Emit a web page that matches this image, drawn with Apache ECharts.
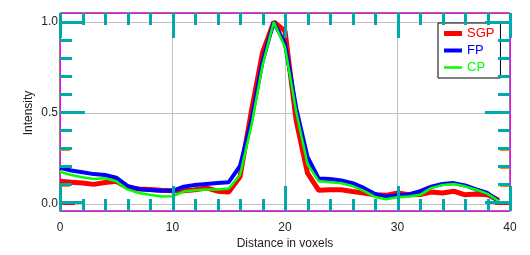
<!DOCTYPE html>
<html>
<head>
<meta charset="utf-8">
<script src="https://cdn.jsdelivr.net/npm/echarts@6/dist/echarts.min.js"></script>
<style>html,body{margin:0;padding:0;background:#fff;}#c{width:530px;height:255px;}</style>
</head>
<body>
<div id="c"></div>
<script>
const distances = [0,1,2,3,4,5,6,7,8,9,10,11,12,13,14,15,16,17,18,19,20,21,22,23,24,25,26,27,28,29,30,31,32,33,34,35,36,37,38,39];
const sgp = [0.115,0.11,0.105,0.098,0.108,0.115,0.08,0.072,0.07,0.065,0.063,0.062,0.068,0.078,0.06,0.055,0.14,0.5,0.83,1.0,0.95,0.45,0.16,0.065,0.068,0.068,0.058,0.05,0.04,0.037,0.05,0.04,0.042,0.055,0.05,0.06,0.04,0.045,0.04,0.01];
const fp = [0.19,0.175,0.165,0.155,0.15,0.135,0.09,0.072,0.066,0.062,0.062,0.085,0.095,0.1,0.105,0.11,0.2,0.45,0.78,1.0,0.88,0.52,0.25,0.13,0.128,0.12,0.105,0.078,0.045,0.03,0.037,0.042,0.06,0.085,0.1,0.105,0.092,0.07,0.05,0.005];
const cp = [0.168,0.15,0.138,0.128,0.132,0.115,0.07,0.05,0.04,0.03,0.032,0.058,0.065,0.07,0.07,0.075,0.15,0.42,0.76,1.0,0.86,0.5,0.21,0.115,0.11,0.104,0.088,0.062,0.028,0.015,0.026,0.03,0.04,0.077,0.095,0.1,0.087,0.068,0.045,0.005];
const seriesNames = ['SGP','FP','CP'];
const xTicks = [0,10,20,30,40];
const yTicks = [0.0,0.5,1.0];
const xMinorTicks = [0,2,4,6,8,10,12,14,16,18,20,22,24,26,28,30,32,34,36,38,40];
const yMinorTicks = [0.0,0.1,0.2,0.3,0.4,0.5,0.6,0.7,0.8,0.9,1.0];
const yRange = [-0.05, 1.05];

const FONT = 'Liberation Sans';
const TXT = '#222';
const pair = arr => distances.map((d,i)=>[d,arr[i]]);
const chart = echarts.init(document.getElementById('c'), null, {renderer:'canvas'});
const ticks = () => ({
  axisLine:{show:true, onZero:false, lineStyle:{color:'#f0f', width:1}},
  axisTick:{show:true, inside:true, length:15, lineStyle:{color:'#f00', width:2}},
  minorTick:{show:true, splitNumber:5, length:10, lineStyle:{color:'#f80', width:2}}
});
const hidden = () => ({
  axisLine:{show:false, onZero:false}, axisTick:{show:false}, minorTick:{show:false},
  axisLabel:{show:false}, splitLine:{show:false}
});
const tickData = xMinorTicks.map(v=>[v,0]).concat(yMinorTicks.map(v=>[v,1]));
const isMajor = (list, v) => list.some(t => Math.abs(t - v) < 1e-9);
const px = v => Math.round(v) + 0.5;
function renderTick(params, api){
  const v = api.value(0), kind = api.value(1);
  const st = {stroke:'#0aa', lineWidth:3};
  const ch = [];
  if (kind === 0){
    const len = isMajor(xTicks, v) ? 25 : 12;
    const b = api.coord([v, yRange[0]]), t = api.coord([v, yRange[1]]);
    const x = px(b[0]);
    ch.push({type:'line', shape:{x1:x, y1:b[1], x2:x, y2:b[1]-len}, style:st});
    ch.push({type:'line', shape:{x1:x, y1:t[1], x2:x, y2:t[1]+len}, style:st});
  } else {
    const len = isMajor(yTicks, v) ? 25 : 12;
    const l = api.coord([xTicks[0], v]), r = api.coord([xTicks[xTicks.length-1], v]);
    const y = px(l[1]);
    ch.push({type:'line', shape:{x1:l[0], y1:y, x2:l[0]+len, y2:y}, style:st});
    ch.push({type:'line', shape:{x1:r[0], y1:y, x2:r[0]-len, y2:y}, style:st});
  }
  return {type:'group', children:ch};
}
chart.setOption({
  animation:false,
  grid:[
    {left:60, right:20, top:13, bottom:42, show:true, borderColor:'#000', borderWidth:1},
    {left:60, right:20, top:22, bottom:51}
  ],
  legend:{
    orient:'vertical', left:438, top:23, width:62,
    padding:[4,6,4,6], itemGap:4, itemWidth:18, itemHeight:12,
    borderColor:'#000', borderWidth:1, backgroundColor:'#fff',
    textStyle:{fontFamily:FONT, fontSize:13},
    data:[
      {name:'SGP', icon:'path://M0,0h36v10h-36z', itemStyle:{color:'#ff0000'}, textStyle:{color:'#ff0000', fontFamily:FONT, fontSize:13}},
      {name:'FP', icon:'path://M0,0h36v8h-36z', itemStyle:{color:'#0000ff'}, textStyle:{color:'#0000ff', fontFamily:FONT, fontSize:13}},
      {name:'CP', icon:'path://M0,0h36v5h-36z', itemStyle:{color:'#00ff00'}, textStyle:{color:'#00ff00', fontFamily:FONT, fontSize:13}}
    ]
  },
  xAxis:[
    Object.assign({gridIndex:0, type:'value', min:xTicks[0], max:xTicks[xTicks.length-1], interval:10,
      splitLine:{show:true, lineStyle:{color:'#c0c0c0', width:1}},
      axisLabel:{color:TXT, fontSize:12, fontFamily:FONT, margin:11},
      name:'Distance in voxels', nameLocation:'middle', nameGap:27, nameMoveOverlap:false,
      nameTextStyle:{color:TXT, fontSize:12, fontFamily:FONT}
    }, ticks()),
    Object.assign({gridIndex:0, type:'value', position:'top', min:xTicks[0], max:xTicks[xTicks.length-1], interval:10,
      splitLine:{show:false}, axisLabel:{show:false}}, ticks()),
    Object.assign({gridIndex:1, type:'value', min:0, max:40, interval:10}, hidden())
  ],
  yAxis:[
    Object.assign({gridIndex:0, type:'value', min:yRange[0], max:yRange[1], interval:0.05}, hidden()),
    Object.assign({gridIndex:1, type:'value', min:yTicks[0], max:yTicks[yTicks.length-1], interval:0.5,
      splitLine:{show:true, lineStyle:{color:'#c0c0c0', width:1}},
      axisLabel:{color:TXT, fontSize:12, fontFamily:FONT, margin:2, formatter:v=>v.toFixed(1)},
      name:'Intensity', nameLocation:'middle', nameGap:25, nameRotate:90, nameMoveOverlap:false,
      nameTextStyle:{color:TXT, fontSize:12, fontFamily:FONT}
    }, ticks()),
    Object.assign({gridIndex:1, type:'value', position:'right', min:yTicks[0], max:yTicks[yTicks.length-1], interval:0.5,
      splitLine:{show:false}, axisLabel:{show:false}}, ticks())
  ],
  series:[
    {name:seriesNames[0], type:'line', xAxisIndex:0, yAxisIndex:0, data:pair(sgp), symbol:'none', color:'#ff0000', lineStyle:{width:5, color:'#ff0000'}},
    {name:seriesNames[1], type:'line', xAxisIndex:0, yAxisIndex:0, data:pair(fp), symbol:'none', color:'#0000ff', lineStyle:{width:4, color:'#0000ff'}},
    {name:seriesNames[2], type:'line', xAxisIndex:0, yAxisIndex:0, data:pair(cp), symbol:'none', color:'#00ff00', lineStyle:{width:2.5, color:'#00ff00'}},
    {type:'custom', xAxisIndex:0, yAxisIndex:0, data:tickData, renderItem:renderTick, silent:true, clip:false, z:5, tooltip:{show:false}}
  ]
});
</script>
</body>
</html>
